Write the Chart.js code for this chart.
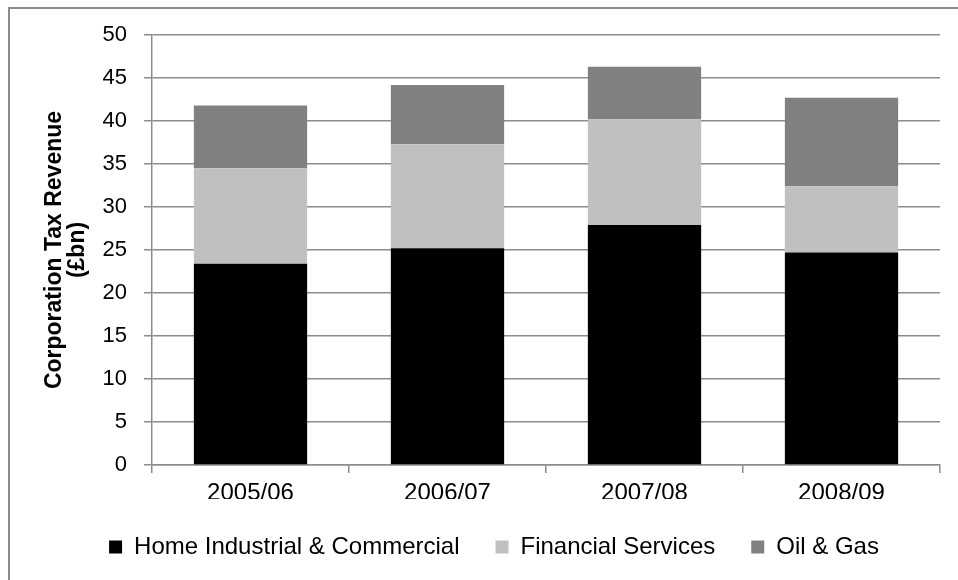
<!DOCTYPE html>
<html>
<head>
<meta charset="utf-8">
<script src="https://cdn.jsdelivr.net/npm/chart.js@4.4.1/dist/chart.umd.min.js"></script>
<style>
    html, body { margin: 0; padding: 0; background: #fff; overflow: hidden; }
    #frame { position: absolute; left: 8px; top: 7px; width: 960px; height: 580px;
             border-top: 2px solid #8c8c8c; border-left: 2px solid #8c8c8c; }
    #wrap { position: absolute; left: 0; top: 0; width: 958px; height: 580px; }
</style>
</head>
<body>
<div id="frame"></div>
<div id="wrap"><canvas id="myChart"></canvas></div>
<script>
// годы и выручка по секторам, млрд фунтов
const years = ['2005/06', '2006/07', '2007/08', '2008/09'];
const homeIndustrial = [23.4, 25.2, 27.9, 24.7];
const financial = [11.1, 12.1, 12.3, 7.7];
const oilGas = [7.3, 6.9, 6.1, 10.3];
const yTicks = [0, 5, 10, 15, 20, 25, 30, 35, 40, 45, 50];

Chart.defaults.font.family = '"Liberation Sans", Arial, sans-serif';
Chart.defaults.color = '#000';

const gridColor = '#8c8c8c';

const ctx = document.getElementById('myChart');
let chart = new Chart(ctx, {
    type: 'bar',
    data: {
        labels: years,
        datasets: [{
            label: 'Home Industrial & Commercial',
            data: homeIndustrial,
            backgroundColor: '#000000'
        }, {
            label: 'Financial Services',
            data: financial,
            backgroundColor: '#c0c0c0'
        }, {
            label: 'Oil & Gas',
            data: oilGas,
            backgroundColor: '#808080'
        }]
    },
    options: {
        responsive: true,
        maintainAspectRatio: false,
        animation: false,
        datasets: {
            bar: { barPercentage: 0.575, categoryPercentage: 1.0 }
        },
        layout: {
            padding: { left: 48, right: 18, top: 35, bottom: 11 }
        },
        plugins: {
            tooltip: { enabled: false },
            legend: {
                position: 'bottom',
                labels: {
                    boxWidth: 13,
                    boxHeight: 13,
                    padding: 36,
                    font: { size: 24 }
                }
            }
        },
        scales: {
            x: {
                stacked: true,
                grid: { drawOnChartArea: false, tickLength: 8, color: gridColor, lineWidth: 1.5 },
                border: { color: gridColor, width: 1.5 },
                ticks: { font: { size: 24 }, padding: 6 },
                afterFit: function (scale) { scale.height = 34; }
            },
            y: {
                stacked: true,
                min: 0,
                max: 50,
                afterBuildTicks: function (scale) {
                    scale.ticks = yTicks.map(v => ({ value: v }));
                },
                grid: { tickLength: 8, color: gridColor, lineWidth: 1.5 },
                border: { color: gridColor, width: 1.5 },
                ticks: { font: { size: 22 }, padding: 17 },
                title: {
                    display: true,
                    text: ['Corporation Tax Revenue', '(£bn)'],
                    font: { size: 23, weight: 'bold', lineHeight: 1.0 },
                    // заголовок чуть левее края оси
                    padding: { top: -5, bottom: 0 }
                },
                afterFit: function (scale) { scale.width = 104; }
            }
        }
    }
});
</script>
</body>
</html>
